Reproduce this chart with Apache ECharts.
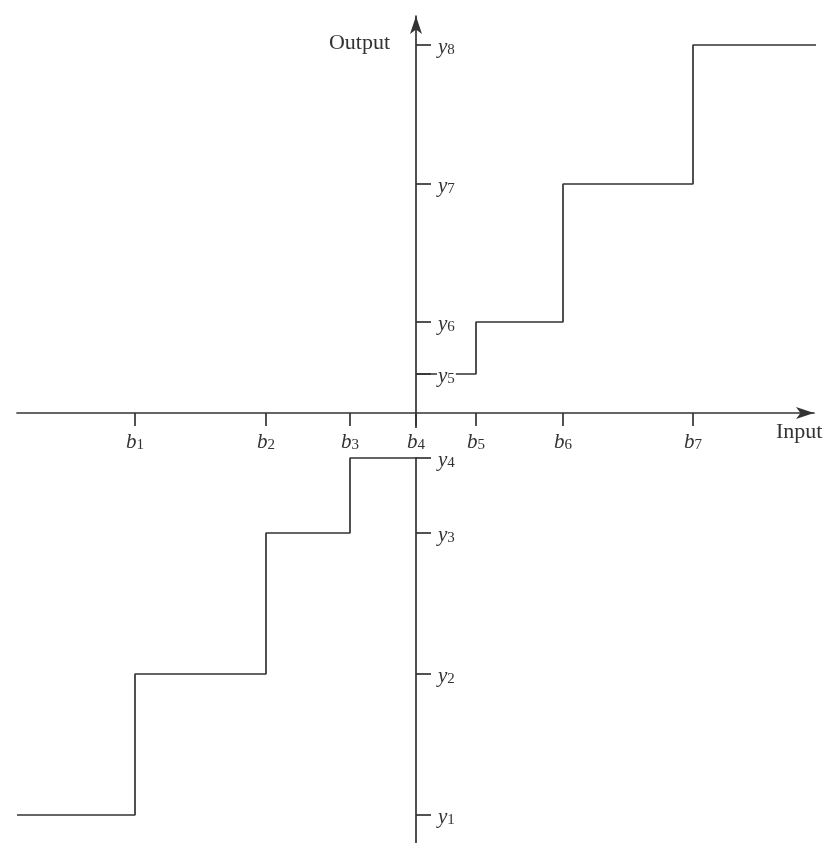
<!DOCTYPE html>
<html>
<head>
<meta charset="utf-8">
<script src="https://cdn.jsdelivr.net/npm/echarts@6/dist/echarts.min.js"></script>
<style>
  html, body { margin: 0; padding: 0; background: #fff; }
  #chart { width: 829px; height: 843px; }
</style>
</head>
<body>
<div id="chart"></div>
<script>
// Quantizer staircase: decision boundaries b1..b7 on the input axis,
// reconstruction levels y1..y8 on the output axis.
var boundaryNames = ['b1', 'b2', 'b3', 'b4', 'b5', 'b6', 'b7'];
var boundaries    = [-28.1, -15.0, -6.6, 0, 6.0, 14.7, 27.7];
var levelNames    = ['y1', 'y2', 'y3', 'y4', 'y5', 'y6', 'y7', 'y8'];
var levels        = [-40.2, -26.1, -12.0, -4.5, 3.9, 9.1, 22.9, 36.8];
var inputStart = -39.9;   // where the lowest step begins
var inputEnd   = 40.9;    // where the highest step ends

// Staircase vertices built from the boundaries and levels.
// Negative side: y1 .. y4, ending at b4. Positive side: y5 .. y8, starting at b4.
function negativeBranch() {
  var pts = [[inputStart, levels[0]]];
  for (var i = 0; i < 3; i++) {
    pts.push([boundaries[i], levels[i]]);
    pts.push([boundaries[i], levels[i + 1]]);
  }
  pts.push([boundaries[3], levels[3]]);
  return pts;
}
function positiveBranch() {
  var pts = [[boundaries[3], levels[4]]];
  for (var i = 4; i < 7; i++) {
    pts.push([boundaries[i], levels[i]]);
    pts.push([boundaries[i], levels[i + 1]]);
  }
  pts.push([inputEnd, levels[7]]);
  return pts;
}

var W = 829, H = 843;
var gridLeft = 17, gridRight = 15, gridTop = 16, gridBottom = 0;
var xMin = -39.9, xMax = 39.8, yMin = -43.0, yMax = 39.7;
// pixel offsets that bring each axis to the other axis' zero
var plotW = W - gridLeft - gridRight, plotH = H - gridTop - gridBottom;
var xAxisShift = -plotH * (0 - yMin) / (yMax - yMin);
var yAxisShift = -plotW * (0 - xMin) / (xMax - xMin);

var ink = '#333';
var serif = 'Liberation Serif';
var subRich = {
  v: { fontFamily: serif, fontStyle: 'italic', fontSize: 21, lineHeight: 22, color: ink, verticalAlign: 'bottom' },
  s: { fontFamily: serif, fontSize: 15, lineHeight: 5, color: ink, verticalAlign: 'bottom' }
};
function subLabel(name) {
  return '{v|' + name.charAt(0) + '}{s|' + name.slice(1) + '}';
}

var chart = echarts.init(document.getElementById('chart'), null, { renderer: 'canvas' });
chart.setOption({
  animation: false,
  backgroundColor: '#fff',
  grid: {
    left: gridLeft, right: gridRight, top: gridTop, bottom: gridBottom,
    containLabel: false, outerBoundsMode: 'none'
  },
  xAxis: {
    type: 'value',
    position: 'bottom',
    offset: xAxisShift,
    min: xMin,
    max: xMax,
    z: 6,
    splitLine: { show: false },
    axisLine: {
      onZero: false,
      symbol: ['none', 'arrow'],
      symbolSize: [9, 18],
      lineStyle: { color: ink, width: 1.7 }
    },
    axisTick: {
      customValues: boundaries,
      length: 13,
      lineStyle: { color: ink, width: 1.7 }
    },
    axisLabel: {
      customValues: boundaries,
      margin: 15,
      backgroundColor: '#fff',
      padding: [3, 2, 4, 2],
      formatter: function (v) {
        return subLabel(boundaryNames[boundaries.indexOf(v)]);
      },
      rich: subRich
    }
  },
  yAxis: {
    type: 'value',
    position: 'left',
    offset: yAxisShift,
    min: yMin,
    max: yMax,
    z: 5,
    splitLine: { show: false },
    axisLine: {
      onZero: false,
      symbol: ['none', 'arrow'],
      symbolSize: [9, 18],
      lineStyle: { color: ink, width: 1.7 }
    },
    axisTick: {
      customValues: levels,
      inside: true,
      length: 15,
      lineStyle: { color: ink, width: 1.7 }
    },
    axisLabel: {
      customValues: levels,
      inside: true,
      margin: 21,
      backgroundColor: '#fff',
      padding: [4, 1, 0, 1],
      formatter: function (v) {
        return subLabel(levelNames[levels.indexOf(v)]);
      },
      rich: subRich
    }
  },
  graphic: [
    {
      type: 'text', right: W - 390, top: 32,
      style: { text: 'Output', font: '22px "Liberation Serif"', fill: ink }
    },
    {
      type: 'text', left: 776, top: 421,
      style: { text: 'Input', font: '22px "Liberation Serif"', fill: ink }
    }
  ],
  series: [
    {
      type: 'line', data: negativeBranch(), showSymbol: false, clip: false, z: 2,
      lineStyle: { color: ink, width: 1.7 }
    },
    {
      type: 'line', data: positiveBranch(), showSymbol: false, clip: false, z: 2,
      lineStyle: { color: ink, width: 1.7 }
    }
  ]
});
</script>
</body>
</html>
